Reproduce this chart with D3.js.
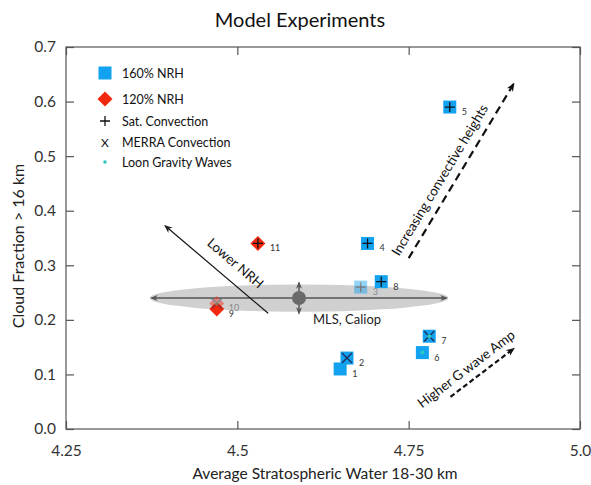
<!DOCTYPE html>
<html>
<head>
<meta charset="utf-8">
<script src="https://cdn.jsdelivr.net/npm/d3@7"></script>
<style>
  body { margin: 0; background: #fff; }
  text { font-family: Lato, "Open Sans", sans-serif; }
</style>
</head>
<body>
<div id="chart"></div>
<script>
// model runs
var runIds   = [1, 2, 3, 4, 5, 6, 7, 8, 9, 10, 11];
var runWater = [4.65, 4.66, 4.68, 4.69, 4.81, 4.77, 4.78, 4.71, 4.47, 4.47, 4.53];
var runCloud = [0.11, 0.13, 0.26, 0.34, 0.59, 0.14, 0.17, 0.27, 0.22, 0.23, 0.34];
var runNrh   = [160, 160, 160, 160, 160, 160, 160, 160, 120, 120, 120];
var runConv  = ["", "merra", "sat", "sat", "sat", "", "merra", "sat", "", "merra", "sat"];
var runGw    = [0, 0, 0, 0, 0, 1, 1, 0, 0, 1, 0];
var runFaded = [0, 0, 1, 0, 0, 0, 0, 0, 0, 1, 0];

// observation (MLS, Caliop) with spread
var obs = {x: 4.59, y: 0.24, dx: 0.215, dy: 0.025};

var xTicks = [4.25, 4.5, 4.75, 5.0];
var xTickLabels = ["4.25", "4.5", "4.75", "5.0"];
var yTicks = [0, 0.1, 0.2, 0.3, 0.4, 0.5, 0.6, 0.7];

var legendLabels = ["160% NRH", "120% NRH", "Sat. Convection", "MERRA Convection", "Loon Gravity Waves"];

var W = 591, H = 485;
var margin = {top: 47, right: 11, bottom: 56, left: 66};

var svg = d3.select("#chart").append("svg")
    .attr("width", W)
    .attr("height", H);

var x = d3.scaleLinear().domain([4.25, 5.0]).range([margin.left, W - margin.right]);
var y = d3.scaleLinear().domain([0, 0.7]).range([H - margin.bottom, margin.top]);

var blue = "#12a2f0", red = "#f2290e", cyan = "#2bc9bf", xcol = "#1d2f5c";

// defs for arrows
var defs = svg.append("defs");
function marker(id, color, size) {
  defs.append("marker")
      .attr("id", id)
      .attr("viewBox", "0 0 10 10")
      .attr("refX", 8).attr("refY", 5)
      .attr("markerWidth", size).attr("markerHeight", size)
      .attr("orient", "auto-start-reverse")
      .append("path")
      .attr("d", "M0,1 L10,5 L0,9 L3,5 Z")
      .attr("fill", color);
}
marker("arrBlack", "#111", 4);
marker("arrGray", "#555", 5);
marker("arrThin", "#222", 7);

// title
svg.append("text")
    .attr("x", 300).attr("y", 27)
    .attr("text-anchor", "middle")
    .attr("font-size", "20px")
    .attr("fill", "#111")
    .text("Model Experiments");

// frame
svg.append("rect")
    .attr("x", x(4.25)).attr("y", y(0.7))
    .attr("width", x(5.0) - x(4.25)).attr("height", y(0) - y(0.7))
    .attr("fill", "none").attr("stroke", "#555").attr("stroke-width", 1.2);

// axes (ticks inward, mirrored)
var axB = d3.axisBottom(x).tickValues(xTicks).tickSize(-8).tickFormat(function (d, i) { return xTickLabels[i]; }).tickPadding(16);
var axT = d3.axisTop(x).tickValues(xTicks).tickSize(-8).tickFormat("");
var axL = d3.axisLeft(y).tickValues(yTicks).tickSize(-8).tickFormat(d3.format(".1f")).tickPadding(10);
var axR = d3.axisRight(y).tickValues(yTicks).tickSize(-8).tickFormat("");

function styleAxis(g) {
  g.select(".domain").remove();
  g.selectAll("line").attr("stroke", "#555").attr("stroke-width", 1.2);
  g.selectAll("text").attr("font-size", "15.5px").attr("fill", "#333")
      .attr("font-family", "Lato, 'Open Sans', sans-serif");
}
svg.append("g").attr("transform", "translate(0," + y(0) + ")").call(axB).call(styleAxis);
svg.append("g").attr("transform", "translate(0," + y(0.7) + ")").call(axT).call(styleAxis);
svg.append("g").attr("transform", "translate(" + x(4.25) + ",0)").call(axL).call(styleAxis);
svg.append("g").attr("transform", "translate(" + x(5.0) + ",0)").call(axR).call(styleAxis);

// axis titles
svg.append("text")
    .attr("x", 325).attr("y", 479)
    .attr("text-anchor", "middle")
    .attr("font-size", "15.5px").attr("fill", "#222")
    .text("Average Stratospheric Water 18-30 km");
svg.append("text")
    .attr("transform", "translate(24,246) rotate(-90)")
    .attr("text-anchor", "middle")
    .attr("font-size", "16px").attr("fill", "#222")
    .text("Cloud Fraction > 16 km");

// markers
var S = 13;
function drawSquare(g, cx, cy, color) {
  g.append("rect").attr("x", cx - S / 2).attr("y", cy - S / 2)
      .attr("width", S).attr("height", S).attr("fill", color);
}
function drawDiamond(g, cx, cy, color) {
  var r = 7.5;
  g.append("path")
      .attr("d", "M" + cx + "," + (cy - r) + " L" + (cx + r) + "," + cy + " L" + cx + "," + (cy + r) + " L" + (cx - r) + "," + cy + " Z")
      .attr("fill", color);
}
function drawPlus(g, cx, cy) {
  var r = 5;
  g.append("path")
      .attr("d", "M" + (cx - r) + "," + cy + " H" + (cx + r) + " M" + cx + "," + (cy - r) + " V" + (cy + r))
      .attr("stroke", "#111").attr("stroke-width", 1.3);
}
function drawX(g, cx, cy) {
  var r = 5;
  g.append("path")
      .attr("d", "M" + (cx - r) + "," + (cy - r) + " L" + (cx + r) + "," + (cy + r) + " M" + (cx + r) + "," + (cy - r) + " L" + (cx - r) + "," + (cy + r))
      .attr("stroke", xcol).attr("stroke-width", 1.4);
}
function drawDot(g, cx, cy) {
  g.append("circle").attr("cx", cx).attr("cy", cy).attr("r", 2).attr("fill", cyan);
}

// observation ellipse with arrows
var obsG = svg.append("g");
obsG.append("ellipse")
    .attr("cx", x(obs.x)).attr("cy", y(obs.y))
    .attr("rx", x(obs.x + obs.dx) - x(obs.x) + 2)
    .attr("ry", y(obs.y - obs.dy) - y(obs.y))
    .attr("fill", "#c8c8c8").attr("opacity", 0.85);
obsG.append("line")
    .attr("x1", x(obs.x - obs.dx)).attr("x2", x(obs.x + obs.dx))
    .attr("y1", y(obs.y)).attr("y2", y(obs.y))
    .attr("stroke", "#555").attr("stroke-width", 1.5)
    .attr("marker-start", "url(#arrGray)").attr("marker-end", "url(#arrGray)");
obsG.append("line")
    .attr("x1", x(obs.x)).attr("x2", x(obs.x))
    .attr("y1", y(obs.y + obs.dy + 0.003)).attr("y2", y(obs.y - obs.dy - 0.003))
    .attr("stroke", "#555").attr("stroke-width", 1.5)
    .attr("marker-start", "url(#arrGray)").attr("marker-end", "url(#arrGray)");
obsG.append("circle")
    .attr("cx", x(obs.x)).attr("cy", y(obs.y)).attr("r", 7)
    .attr("fill", "#6a6a6a");
svg.append("text")
    .attr("x", x(obs.x) + 14).attr("y", y(obs.y) + 26)
    .attr("font-size", "13px").attr("fill", "#222")
    .text("MLS, Caliop");

// runs
runIds.forEach(function (id, i) {
  var cx = x(runWater[i]), cy = y(runCloud[i]);
  var g = svg.append("g").attr("opacity", runFaded[i] ? 0.45 : 1);
  if (runNrh[i] === 160) drawSquare(g, cx, cy, blue);
  else drawDiamond(g, cx, cy, red);
  if (runConv[i] === "sat") drawPlus(g, cx, cy);
  if (runConv[i] === "merra") drawX(g, cx, cy);
  if (runGw[i]) drawDot(g, cx, cy);
  svg.append("text")
      .attr("x", cx + 12).attr("y", cy + 8)
      .attr("font-size", "9px")
      .attr("fill", runFaded[i] ? "#888" : "#333")
      .text(id);
});

// legend
var legX = 105, legY = [73, 99, 121, 142, 162];
var lg = svg.append("g");
drawSquare(lg, legX, legY[0], blue);
drawDiamond(lg, legX, legY[1], red);
drawPlus(lg, legX, legY[2]);
lg.append("text").attr("x", legX).attr("y", legY[3] + 4.5)
    .attr("text-anchor", "middle").attr("font-size", "12px").attr("fill", "#111").text("X");
lg.append("circle").attr("cx", legX).attr("cy", legY[4]).attr("r", 1.8).attr("fill", cyan);
legendLabels.forEach(function (t, i) {
  lg.append("text")
      .attr("x", legX + 17).attr("y", legY[i] + 4.5)
      .attr("font-size", "12.5px").attr("fill", "#111")
      .text(t);
});

// annotation arrows (data coords)
var annot = [
  {x1: 4.545, y1: 0.212, x2: 4.395, y2: 0.372, dash: null, mk: "arrThin", w: 1.2,
   text: "Lower NRH", tx: 4.496, ty: 0.302},
  {x1: 4.75, y1: 0.313, x2: 4.903, y2: 0.632, dash: "8,5", mk: "arrBlack", w: 2.2,
   text: "Increasing convective heights", tx: 4.797, ty: 0.455},
  {x1: 4.811, y1: 0.059, x2: 4.903, y2: 0.147, dash: "5,3", mk: "arrBlack", w: 2.2,
   text: "Higher G wave Amp", tx: 4.835, ty: 0.108}
];
annot.forEach(function (a) {
  var X1 = x(a.x1), Y1 = y(a.y1), X2 = x(a.x2), Y2 = y(a.y2);
  svg.append("line")
      .attr("x1", X1).attr("y1", Y1).attr("x2", X2).attr("y2", Y2)
      .attr("stroke", "#111").attr("stroke-width", a.w)
      .attr("stroke-dasharray", a.dash)
      .attr("marker-end", "url(#" + a.mk + ")");
  var ang = Math.atan2(Y2 - Y1, X2 - X1) * 180 / Math.PI;
  if (ang < -90 || ang > 90) ang += 180;
  svg.append("text")
      .attr("transform", "translate(" + x(a.tx) + "," + y(a.ty) + ") rotate(" + ang + ")")
      .attr("text-anchor", "middle").attr("dominant-baseline", "middle")
      .attr("font-size", "13.5px").attr("fill", "#111")
      .text(a.text);
});
</script>
</body>
</html>
